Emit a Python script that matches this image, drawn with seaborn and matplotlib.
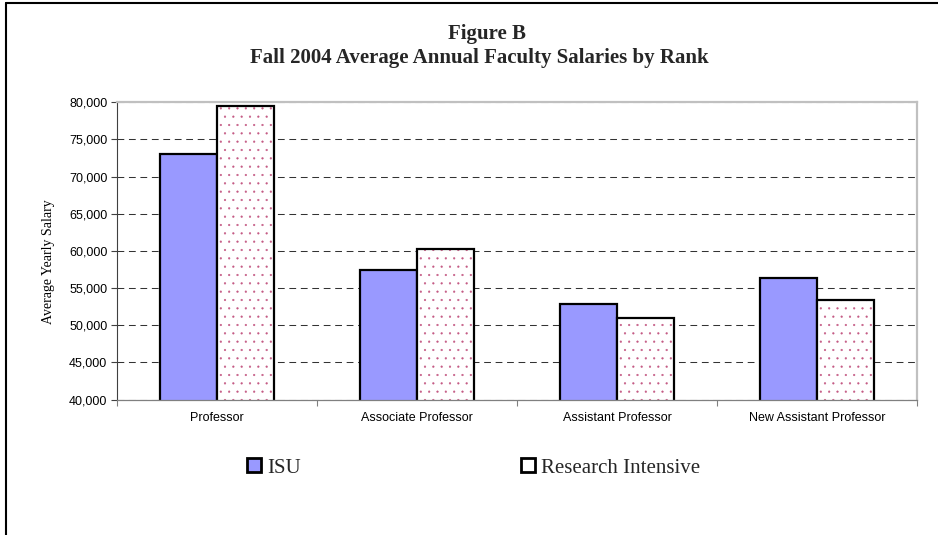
import numpy as np
import pandas as pd
import matplotlib
matplotlib.use("Agg")
import matplotlib.pyplot as plt
import seaborn as sns
from matplotlib.ticker import FuncFormatter, FixedLocator
from matplotlib.patches import Rectangle, Patch
from matplotlib.lines import Line2D

# ---------------- data ----------------
categories = ["Professor", "Associate Professor", "Assistant Professor", "New Assistant Professor"]
series_names = ["ISU", "Research Intensive"]
isu = [73100, 57450, 52800, 56350]
research_intensive = [79500, 60300, 51000, 53450]
y_ticks = [40000, 45000, 50000, 55000, 60000, 65000, 70000, 75000, 80000]

title_line1 = "Figure B"
title_line2 = "Fall 2004 Average Annual Faculty Salaries by Rank"
y_label = "Average Yearly Salary"

df = pd.DataFrame({
    "Rank": categories * 2,
    "Series": [series_names[0]] * len(categories) + [series_names[1]] * len(categories),
    "Salary": isu + research_intensive,
})

# ---------------- style ----------------
sns.set_theme(style="white")
plt.rcParams["font.family"] = ["Liberation Sans", "DejaVu Sans"]
plt.rcParams["hatch.linewidth"] = 0.35

W, H = 938, 535
fig = plt.figure(figsize=(W / 100, H / 100), dpi=100)
fig.patch.set_facecolor("white")
ax = fig.add_axes([117 / W, 1 - 399.5 / H, 800 / W, 297.2 / H])

isu_color = "#9999FF"
dot_color = "#C45A84"

sns.barplot(data=df, x="Rank", y="Salary", hue="Series", order=categories,
            hue_order=series_names, palette=[isu_color, "white"], width=0.57,
            saturation=1, edgecolor="black", linewidth=1.6, legend=False, ax=ax)

# dotted pattern for Research Intensive bars
for p in ax.containers[1]:
    p.set_edgecolor(dot_color)
    p.set_hatch("..")
    p.set_linewidth(0)
    outline = Rectangle((p.get_x(), p.get_y()), p.get_width(), p.get_height(),
                        fill=False, edgecolor="black", linewidth=1.6, zorder=p.get_zorder() + 0.1)
    ax.add_patch(outline)

ax.set_ylim(y_ticks[0], y_ticks[-1])
ax.set_xlim(-0.5, len(categories) - 0.5)
ax.set_yticks(y_ticks)
ax.yaxis.set_major_formatter(FuncFormatter(lambda v, _: f"{v:,.0f}"))
ax.set_xticks(range(len(categories)))
ax.set_xticklabels(categories)
ax.xaxis.set_minor_locator(FixedLocator(np.arange(-0.5, len(categories), 1.0)))

ax.set_axisbelow(True)
ax.yaxis.grid(True, color="#333333", linestyle=(0, (6.5, 4.5)), linewidth=0.75)
ax.xaxis.grid(False)

ax.tick_params(axis="x", which="major", bottom=True, length=0, pad=9, labelsize=9, colors="black")
ax.tick_params(axis="x", which="minor", bottom=True, length=4, width=0.8, color="#808080", direction="out")
ax.tick_params(axis="y", which="major", left=True, length=4, width=0.8, color="#404040",
               direction="out", labelsize=9, pad=3, labelcolor="black")

for side in ["top", "right"]:
    ax.spines[side].set_color("#C0C0C0")
    ax.spines[side].set_linewidth(1.6)
ax.spines["left"].set_color("#404040")
ax.spines["left"].set_linewidth(0.8)
ax.spines["bottom"].set_color("#808080")
ax.spines["bottom"].set_linewidth(0.9)

ax.set_xlabel("")
ax.set_ylabel(y_label, fontfamily="Liberation Serif", fontsize=10, color="black")
ax.yaxis.set_label_coords(-0.077, 0.465)

# titles
fig.text(486.7 / W, 1 - 39 / H, title_line1, ha="center", va="baseline", fontsize=15,
         fontweight="bold", family="Liberation Serif")
fig.text(479.7 / W, 1 - 63 / H, title_line2, ha="center", va="baseline", fontsize=15,
         fontweight="bold", family="Liberation Serif")

# legend
handles = [Patch(facecolor=isu_color, edgecolor="black", linewidth=2),
           Patch(facecolor="white", edgecolor="black", linewidth=2)]
fig.legend(handles, series_names, loc="center left", bbox_to_anchor=(247 / W, 1 - 468 / H),
           ncol=2, frameon=False, prop={"family": "Liberation Serif", "size": 15},
           handlelength=0.65, handleheight=0.65, handletextpad=0.3, columnspacing=10.6,
           borderpad=0, borderaxespad=0)

# outer frame (top and left edges visible)
fig.add_artist(Line2D([5.5 / W, 1.0], [1 - 3.3 / H, 1 - 3.3 / H], transform=fig.transFigure,
                      color="black", linewidth=1.5))
fig.add_artist(Line2D([5.7 / W, 5.7 / W], [0.0, 1 - 2.5 / H], transform=fig.transFigure,
                      color="black", linewidth=1.5))

fig.savefig("out.png", dpi=100)
